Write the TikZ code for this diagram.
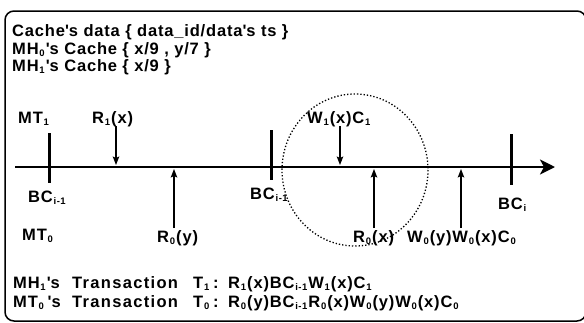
\documentclass[tikz,border=0pt]{standalone}
\usepackage{fontspec}
\setmainfont{Liberation Sans}[LetterSpace=5]
\usetikzlibrary{arrows.meta}
\newcommand{\lsub}[1]{\kern0.8pt\raisebox{-2.8pt}{\fontsize{9.5}{9.5}\selectfont #1}\kern1pt}
\newcommand{\ap}{\textquotesingle}
\begin{document}
\begin{tikzpicture}[x=1pt,y=-1pt,
  txt/.style={anchor=base west,inner sep=0pt,font=\fontsize{16.5}{18}\selectfont\bfseries},
  widetxt/.style={txt,font=\fontsize{16.5}{18}\selectfont\bfseries\addfontfeatures{LetterSpace=8}},
  frame/.style={line width=1.5pt,rounded corners=9pt},
  timeline/.style={line width=2.6pt,-{Stealth[length=15pt,width=15pt,inset=4pt]}},
  tick/.style={line width=3pt},
  ev/.style={line width=1.2pt,-{Stealth[length=8.5pt,width=6.5pt,inset=1.5pt]}},
  zone/.style={line width=1.3pt,dotted}]
\useasboundingbox (0,0) rectangle (584,322);
\draw[frame] (5,11) rectangle (586,321);
% header text
\node[txt] (cd) at (12,36) {Cache\ap s data \{ data\_id/data\ap s ts \}};
\node[txt] (mh0) at (12,54) {MH\lsub{0}\ap s Cache \{ x/9 , y/7 \}};
\node[txt] (mh1) at (12,71) {MH\lsub{1}\ap s Cache \{ x/9 \}};
% timeline
\coordinate (tl0) at (15,167);
\coordinate (tl1) at (555,167);
\draw[timeline] (tl0) -- (tl1);
% ticks
\coordinate (k1a) at (49,133); \coordinate (k1b) at (49,183);
\coordinate (k2a) at (271,130); \coordinate (k2b) at (271,180);
\coordinate (k3a) at (511,134); \coordinate (k3b) at (511,185);
\draw[tick] (k1a) -- (k1b);
\draw[tick] (k2a) -- (k2b);
\draw[tick] (k3a) -- (k3b);
% labels above
\node[txt] (mt1) at (18,123) {MT\lsub{1}};
\node[txt] (r1x) at (92,123) {R\lsub{1}(x)};
\node[txt] (w1x) at (307,123) {W\lsub{1}(x)C\lsub{1}};
% labels below
\node[txt] (bc1) at (28,202) {BC\lsub{i-1}};
\node[txt] (bc2) at (250,199) {BC\lsub{i-1}};
\node[txt] (bc3) at (498,209) {BC\lsub{i}};
\node[txt] (mt0) at (22,240) {MT\lsub{0}};
\node[txt] (r0y) at (157,242) {R\lsub{0}(y)};
\node[txt] (r0x) at (353,242) {R\lsub{0}(x)};
\node[txt] (w0) at (407,242) {W\lsub{0}(y)W\lsub{0}(x)C\lsub{0}};
% event arrows
\coordinate (a1s) at (116,126); \coordinate (a1e) at (116,165);
\coordinate (a2s) at (174,228); \coordinate (a2e) at (174,169);
\coordinate (a3s) at (340,126); \coordinate (a3e) at (340,165);
\coordinate (a4s) at (374,228); \coordinate (a4e) at (374,169);
\coordinate (a5s) at (461,228); \coordinate (a5e) at (461,169);
\draw[ev] (a1s) -- (a1e);
\draw[ev] (a2s) -- (a2e);
\draw[ev] (a3s) -- (a3e);
\draw[ev] (a4s) -- (a4e);
\draw[ev] (a5s) -- (a5e);
% dotted zone
\coordinate (zc) at (355,170);
\draw[zone] (zc) ellipse [x radius=73, y radius=76];
% transactions
\node[txt] (t1a) at (13,288) {MH\lsub{1}\ap s};
\node[widetxt] (t1b) at (72,288) {Transaction};
\node[txt] (t1c) at (193,288) {T\lsub{1}\,:};
\node[txt] (t1d) at (228,288) {R\lsub{1}(x)BC\lsub{i-1}W\lsub{1}(x)C\lsub{1}};
\node[txt] (t0a) at (13,307) {MT\lsub{0}\,\ap s};
\node[widetxt] (t0b) at (72,307) {Transaction};
\node[txt] (t0c) at (193,307) {T\lsub{0}\,:};
\node[txt] (t0d) at (228,307) {R\lsub{0}(y)BC\lsub{i-1}R\lsub{0}(x)W\lsub{0}(y)W\lsub{0}(x)C\lsub{0}};
\end{tikzpicture}
\end{document}
